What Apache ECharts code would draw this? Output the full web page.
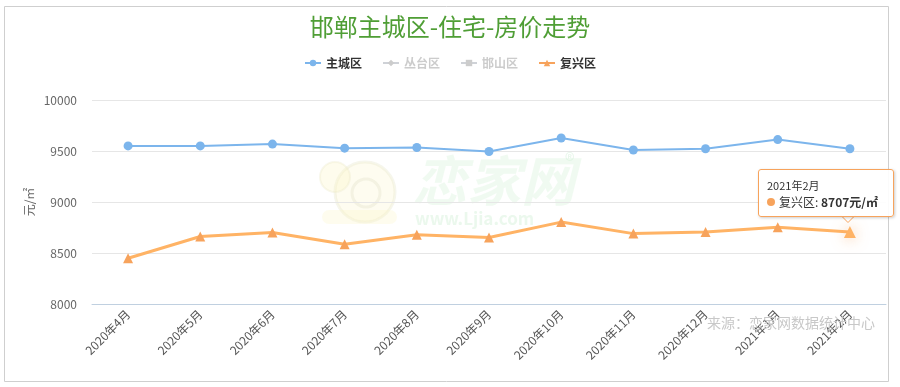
<!DOCTYPE html>
<html><head><meta charset="utf-8">
<script src="https://cdn.jsdelivr.net/npm/echarts@6/dist/echarts.min.js"></script>
<style>html,body{margin:0;padding:0;background:#fff}#c{width:900px;height:387px}</style>
</head><body><div id="c"></div>
<script>
var titleText = '邯郸主城区-住宅-房价走势';
var categories = ['2020年4月','2020年5月','2020年6月','2020年7月','2020年8月','2020年9月','2020年10月','2020年11月','2020年12月','2021年1月','2021年2月'];
var zhuchengqu = [9550,9550,9568,9528,9534,9495,9628,9510,9522,9612,9522];
var congtaiqu = [];
var hanshanqu = [];
var fuxingqu = [8448,8662,8702,8585,8680,8652,8803,8690,8705,8752,8707];
var yTicks = {min:8000, max:10000, interval:500};
var unit = '元/㎡';
var source = '来源：恋家网数据统计中心';

var chart = echarts.init(document.getElementById('c'));
var FONT = '"Noto Sans CJK SC","Microsoft YaHei",sans-serif';
chart.setOption({
  animation:false,
  textStyle:{fontFamily:FONT},
  title:{text:titleText,left:'center',top:10,textStyle:{color:'#4f9e35',fontSize:24,fontWeight:'normal',fontFamily:FONT}},
  legend:{top:52,left:'center',itemWidth:16,itemHeight:8,itemGap:20,
    textStyle:{color:'#333',fontSize:12,fontWeight:'bold'},inactiveColor:'#ccc',
    data:['主城区','丛台区','邯山区','复兴区'],
    selected:{'丛台区':false,'邯山区':false}},
  grid:{left:92,right:14,top:100,bottom:83},
  tooltip:{trigger:'item',triggerOn:'none',alwaysShowContent:true,
    backgroundColor:'rgba(255,255,255,0.92)',borderColor:'#f7a35c',borderWidth:1,padding:[7,8,6,8],
    extraCssText:'border-radius:3px;box-shadow:1px 1px 3px rgba(0,0,0,0.2);width:118px;',
    position:function(){return [758,169];},
    formatter:function(p){
      return '<div style="font-family:'+FONT.replace(/"/g,"'")+';line-height:16px;">'+
        '<div style="font-size:11px;color:#333">'+p.name+'</div>'+
        '<div style="font-size:12px;color:#333;margin-top:1px"><span style="display:inline-block;width:8px;height:8px;border-radius:4px;background:'+p.color+';margin-right:4px;vertical-align:1px"></span>'+p.seriesName+': <b>'+p.value+unit+'</b></div></div>';
    }},
  graphic:[
    {type:'rect',z:-10,shape:{x:4.5,y:6.5,width:884,height:375},style:{fill:'none',stroke:'#cfcfcf',lineWidth:1}},
    {type:'circle',z:-5,shape:{cx:365,cy:192,r:30},style:{fill:'rgba(250,242,185,0.22)',stroke:'rgba(230,228,200,0.35)',lineWidth:3}},
    {type:'circle',z:-5,shape:{cx:366,cy:193,r:14},style:{fill:'none',stroke:'rgba(228,228,205,0.4)',lineWidth:3}},
    {type:'circle',z:-5,shape:{cx:335,cy:177,r:15},style:{fill:'rgba(252,246,195,0.3)',stroke:'rgba(235,232,200,0.35)',lineWidth:2}},
    {type:'rect',z:-5,shape:{x:322,y:210,width:75,height:14,r:7},style:{fill:'rgba(252,246,195,0.28)'}},
    {type:'text',z:-5,left:413,top:153,style:{text:'恋家网',font:'italic bold 54px '+FONT,fill:'rgba(205,238,210,0.3)'}},
    {type:'text',z:-5,left:415,top:210,style:{text:'www.Ljia.com',font:'bold 17px '+FONT,fill:'rgba(205,238,210,0.4)'}},
    {type:'text',z:-5,left:565,top:150,style:{text:'®',font:'20px '+FONT,fill:'rgba(205,238,210,0.45)'}},
    {type:'text',z:50,left:707,top:316,style:{text:source,font:'14px '+FONT,fill:'#c8c8c8'}},
    {type:'polyline',z:100,zlevel:1,shape:{points:[[840,214.5],[848,222.5],[856,214.5]]},style:{fill:'rgba(255,255,255,0.95)',stroke:'#f7a35c',lineWidth:1}}
  ],
  xAxis:{type:'category',data:categories,boundaryGap:true,
    axisLine:{lineStyle:{color:'#c0d0e0'}},axisTick:{length:9,lineStyle:{color:'#c0d0e0'}},
    axisLabel:{rotate:45,color:'#555',fontSize:12,margin:8,interval:0}},
  yAxis:{type:'value',min:yTicks.min,max:yTicks.max,interval:yTicks.interval,
    name:unit,nameLocation:'middle',nameGap:57,nameRotate:90,nameMoveOverlap:false,nameTextStyle:{color:'#666',fontSize:12},
    axisLine:{show:false},axisTick:{show:false},
    axisLabel:{color:'#666',fontSize:12,margin:15,formatter:function(v){return String(v);}},
    splitLine:{lineStyle:{color:'#e6e6e6'}}},
  series:[
    {name:'主城区',type:'line',data:zhuchengqu,color:'#7cb5ec',symbol:'circle',symbolSize:9,lineStyle:{width:2},z:3},
    {name:'丛台区',type:'line',data:congtaiqu,color:'#888',symbol:'diamond',symbolSize:9},
    {name:'邯山区',type:'line',data:hanshanqu,color:'#888',symbol:'rect',symbolSize:8},
    {name:'复兴区',type:'line',data:fuxingqu,color:'#f7a35c',symbol:'triangle',symbolSize:10,lineStyle:{width:3},z:4,
      emphasis:{scale:1.2,itemStyle:{shadowBlur:14,shadowColor:'rgba(247,163,92,0.7)'}}}
  ]
});
chart.dispatchAction({type:'highlight',seriesIndex:3,dataIndex:10});
chart.dispatchAction({type:'showTip',seriesIndex:3,dataIndex:10});
</script></body></html>
